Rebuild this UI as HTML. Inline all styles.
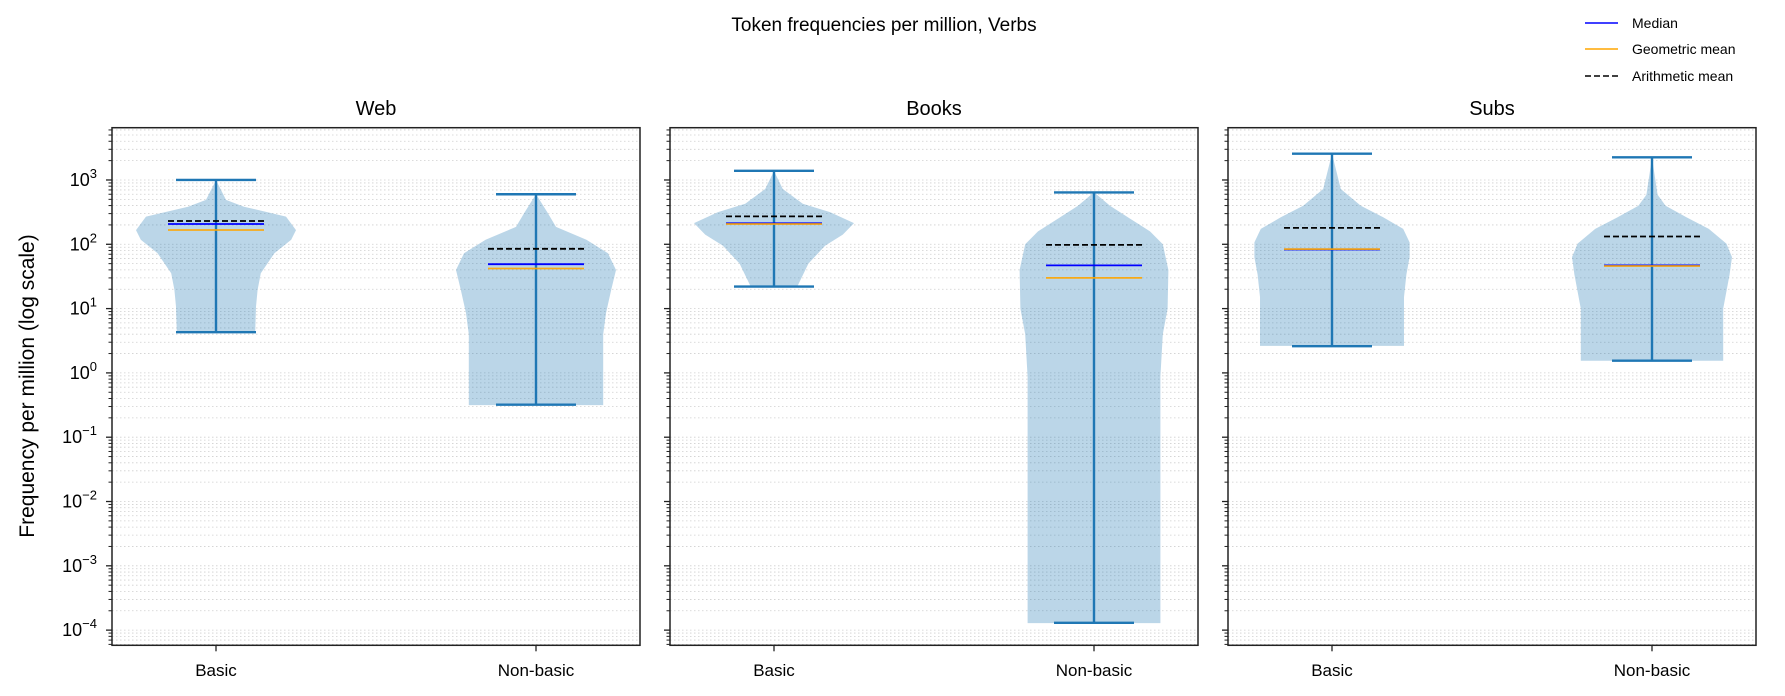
<!DOCTYPE html>
<html><head><meta charset="utf-8"><style>
html,body{margin:0;padding:0;background:#fff;}
svg{display:block;font-family:"Liberation Sans","DejaVu Sans",sans-serif;}
</style></head><body>
<svg id="chart" width="1785" height="696" viewBox="0 0 1785 696" xmlns="http://www.w3.org/2000/svg">
<text x="884" y="31" font-size="19" text-anchor="middle" fill="#000">Token frequencies per million, Verbs</text>
<text transform="translate(34,386) rotate(-90)" font-size="21" text-anchor="middle" fill="#000">Frequency per million (log scale)</text>
<g font-size="14" fill="#000">
<line x1="1585" y1="23" x2="1618" y2="23" stroke="#0000ff" stroke-width="1.5"/>
<text x="1632" y="28">Median</text>
<line x1="1585" y1="49" x2="1618" y2="49" stroke="#ffa500" stroke-width="1.5"/>
<text x="1632" y="54">Geometric mean</text>
<line x1="1585" y1="76" x2="1618" y2="76" stroke="#000" stroke-width="1.5" stroke-dasharray="6,3"/>
<text x="1632" y="81">Arithmetic mean</text>
</g>
<g id="panels"></g>
</svg>
<script>
const panelNames = ["Web", "Books", "Subs"];
const categories = ["Basic", "Non-basic"];
const maxVals = [[1000, 600], [1390, 640], [2560, 2250]];
const minVals = [[4.3, 0.32], [22, 0.00013], [2.6, 1.55]];
const medians = [[207, 49], [212, 47], [83, 47]];
const geoMeans = [[167, 42], [207, 30], [84, 46]];
const arithMeans = [[230, 85], [272, 98], [180, 132]];
// violin profiles: [log10 value, relative half-width]
const profiles = [
 [
  [[3.0,0],[2.95,0.02],[2.69,0.125],[2.585,0.35],[2.43,0.875],[2.22,1.0],[2.07,0.94],[1.86,0.73],[1.55,0.56],[1.29,0.52],[1.03,0.5],[0.63,0.49]],
  [[2.78,0],[2.48,0.15],[2.27,0.25],[2.07,0.63],[1.86,0.9],[1.6,1.0],[1.29,0.94],[0.93,0.875],[0.6,0.84],[-0.5,0.84]]
 ],
 [
  [[3.14,0],[2.86,0.11],[2.63,0.36],[2.5,0.7],[2.33,1.0],[2.15,0.86],[1.98,0.64],[1.7,0.43],[1.34,0.29]],
  [[2.81,0],[2.6,0.2],[2.4,0.45],[2.2,0.7],[2.0,0.86],[1.6,0.93],[1.0,0.92],[0.6,0.86],[-0.06,0.83],[-3.89,0.83]]
 ],
 [
  [[3.41,0],[2.86,0.11],[2.6,0.36],[2.42,0.64],[2.24,0.89],[2.03,0.97],[1.8,0.97],[1.53,0.93],[1.18,0.9],[0.42,0.9]],
  [[3.35,0],[2.77,0.07],[2.6,0.17],[2.42,0.43],[2.24,0.71],[2.01,0.93],[1.8,1.0],[1.53,0.97],[1.0,0.89],[0.19,0.89]]
 ]
];
const yTickExps = [3, 2, 1, 0, -1, -2, -3, -4];

const NS = "http://www.w3.org/2000/svg";
const panelLeft = [112, 670, 1228];
const panelW = 528, axTop = 127.7, axBottom = 645.3;
const logMin = -4.236, logMax = 3.813;
function yScale(v){ return axBottom - (Math.log10(v) - logMin) / (logMax - logMin) * (axBottom - axTop); }
function yLog(l){ return axBottom - (l - logMin) / (logMax - logMin) * (axBottom - axTop); }
function xScale(p, i){ return panelLeft[p] + (i + 1 - 0.675) / 1.65 * panelW; }
const unitPx = panelW / 1.65;
function mk(tag, attrs, parent){ const e = document.createElementNS(NS, tag); for (const k in attrs) e.setAttribute(k, attrs[k]); parent.appendChild(e); return e; }
const root = document.getElementById("panels");
for (let p = 0; p < 3; p++) {
  const g = mk("g", {}, root);
  
  
  const L = panelLeft[p], R = L + panelW;
  for (let e = -5; e <= 4; e++) for (let m = 1; m <= 9; m++) {
    const l = e + Math.log10(m);
    if (l < logMin || l > logMax) continue;
    const y = yLog(l);
    const gl = mk("line", {x1: L, x2: R, y1: y, y2: y, stroke: "#cfcfcf", "stroke-width": 0.8, "stroke-dasharray": "1.5,2.5"}, g);
    
    
    const tk = mk("line", {x1: L - (m === 1 ? 6 : 3.5), x2: L, y1: y, y2: y, stroke: "#222", "stroke-width": m === 1 ? 1.3 : 1}, g);
    
    
  }
  if (p === 0) {
    yTickExps.forEach(ex => {
      const t = mk("text", {x: 97, y: yScale(Math.pow(10, ex)) + 6, "font-size": 18, "text-anchor": "end", fill: "#000"}, g);
      
      
      t.appendChild(document.createTextNode("10"));
      const s = mk("tspan", {dy: -8, "font-size": 13}, t);
      s.textContent = ex < 0 ? "\u2212" + (-ex) : String(ex);
    });
  }
  const st = mk("text", {x: L + panelW / 2, y: 115, "font-size": 20, "text-anchor": "middle", fill: "#000"}, g);
  
  
  st.textContent = panelNames[p];
  for (let i = 0; i < 2; i++) {
    const cx = xScale(p, i);
    const prof = profiles[p][i];
    const half = 0.25 * unitPx;
    let d = "";
    prof.forEach((pt, k) => { d += (k ? "L" : "M") + (cx + pt[1] * half).toFixed(1) + "," + yLog(pt[0]).toFixed(1); });
    for (let k = prof.length - 1; k >= 0; k--) d += "L" + (cx - prof[k][1] * half).toFixed(1) + "," + yLog(prof[k][0]).toFixed(1);
    d += "Z";
    const body = mk("path", {d: d, fill: "#1f77b4", "fill-opacity": 0.3, stroke: "none"}, g);
    
    
    const yMax = yScale(maxVals[p][i]), yMin = yScale(minVals[p][i]);
    const capH = 0.125 * unitPx;
    const bar = mk("line", {x1: cx, x2: cx, y1: yMax, y2: yMin, stroke: "#1f77b4", "stroke-width": 2.4}, g);
    
    
    const c1 = mk("line", {x1: cx - capH, x2: cx + capH, y1: yMax, y2: yMax, stroke: "#1f77b4", "stroke-width": 2.4}, g);
    
    
    const c2 = mk("line", {x1: cx - capH, x2: cx + capH, y1: yMin, y2: yMin, stroke: "#1f77b4", "stroke-width": 2.4}, g);
    
    
    const mh = 0.15 * unitPx;
    const am = mk("line", {x1: cx - mh, x2: cx + mh, y1: yScale(arithMeans[p][i]), y2: yScale(arithMeans[p][i]), stroke: "#000", "stroke-width": 1.8, "stroke-dasharray": "6,3"}, g);
    
    
    const md = mk("line", {x1: cx - mh, x2: cx + mh, y1: yScale(medians[p][i]), y2: yScale(medians[p][i]), stroke: "#0000ff", "stroke-width": 1.8}, g);
    
    
    const gm = mk("line", {x1: cx - mh, x2: cx + mh, y1: yScale(geoMeans[p][i]), y2: yScale(geoMeans[p][i]), stroke: "#ffa500", "stroke-width": 1.8, "stroke-opacity": 0.9}, g);
    
    
    const xt = mk("line", {x1: cx, x2: cx, y1: axBottom, y2: axBottom + 6, stroke: "#222", "stroke-width": 1.3}, g);
    
    
    const xl = mk("text", {x: cx, y: 676, "font-size": 17, "text-anchor": "middle", fill: "#000"}, g);
    
    
    xl.textContent = categories[i];
  }
  const fr = mk("rect", {x: L, y: axTop, width: panelW, height: axBottom - axTop, fill: "none", stroke: "#222", "stroke-width": 1.5}, g);
  
  
}
</script>
</body></html>
